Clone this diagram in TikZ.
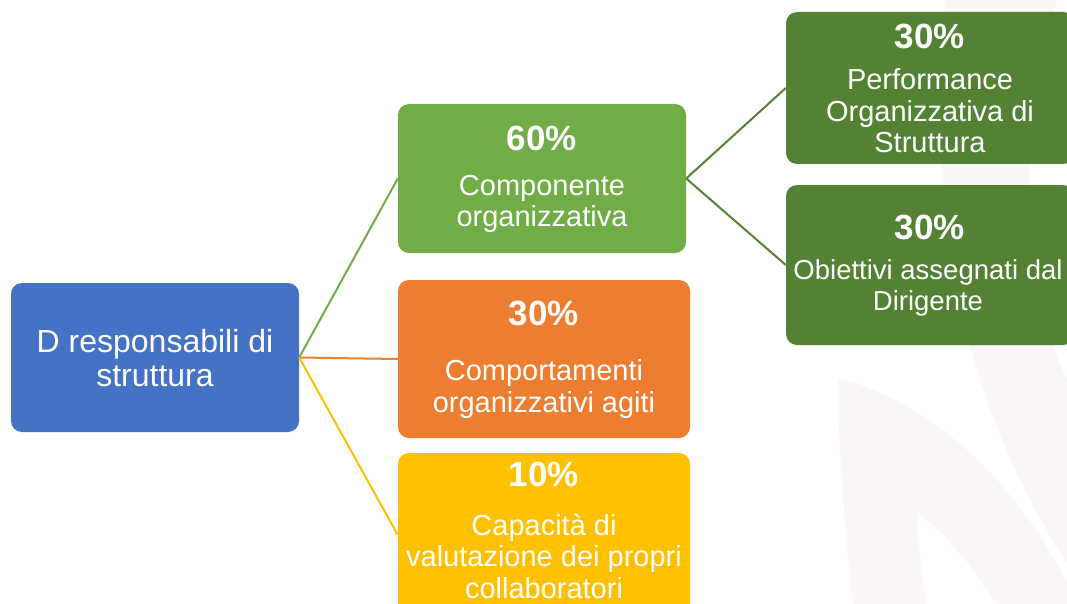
\documentclass[tikz,border=0pt]{standalone}
\usepackage{fontspec}
\setmainfont{Liberation Sans}
\usepackage{tikz}
\usetikzlibrary{positioning}
\definecolor{rootblue}{HTML}{4472C4}
\definecolor{leafgreen}{HTML}{70AD47}
\definecolor{carrot}{HTML}{ED7D31}
\definecolor{amber}{HTML}{FFC000}
\definecolor{forest}{HTML}{548235}
\definecolor{ghost}{HTML}{FBF7F8}

\begin{document}
\begin{tikzpicture}[x=1pt, y=-1pt,
		box/.style={rounded corners=11pt, inner sep=0pt, minimum width=288pt},
		pct/.style={text=white, font=\bfseries\fontsize{35}{40}\selectfont},
		txt/.style={text=white, align=center, font=\fontsize{29}{31.5}\selectfont},
		link/.style={line width=2pt}]
		
		\clip (0,0) rectangle (1067,604);
		
		\fill [ghost] (838,378) .. controls (940,405) and (1020,490) .. (1067,583) -- (1067,604) -- (997,604) .. controls (975,570) and (950,538) .. (917,512) .. controls (918,550) and (922,580) .. (927,604) -- (853,604) .. controls (845,530) and (838,450) .. (838,378) -- cycle;
		\fill [ghost] (945,0) .. controls (925,200) and (960,400) .. (1067,563) -- (1067,380) .. controls (1030,300) and (1010,150) .. (1057,0) -- cycle;
		
		\node [box, fill=rootblue, minimum height=149pt] (root) at (155,357.5) {};
		\node [box, fill=leafgreen, minimum height=149pt] (cmp) at (542,178.5) {};
		\node [box, fill=carrot, minimum width=292pt, minimum height=158pt] (beh) at (544,359) {};
		\node [box, fill=amber, minimum width=292pt, minimum height=164pt] (val) at (544,535) {};
		\node [box, fill=forest, minimum height=152pt] (perf) at (930,88) {};
		\node [box, fill=forest, minimum height=160pt] (obj) at (930,265) {};
		
		\node [txt, font=\fontsize{32}{34}\selectfont] (rootT) at (155,358) {D responsabili di\\struttura};
		
		\node [pct] (cmpP) at (542,138) {60\%};
		\node [txt] (cmpT) at (542,204) {Componente\\organizzativa};
		\node [pct] (behP) at (544,313) {30\%};
		\node [txt] (behT) at (544,389) {Comportamenti\\organizzativi agiti};
		\node [pct] (valP) at (544,474) {10\%};
		\node [txt] (valT) at (544,556) {Capacità di\\valutazione dei propri\\collaboratori};
		\node [pct] (perfP) at (930,36) {30\%};
		\node [txt] (perfT) at (930,111) {Performance\\Organizzativa di\\Struttura};
		\node [pct] (objP) at (930,227) {30\%};
		\node [txt, font=\fontsize{27.5}{31.5}\selectfont] (objT) at (928,288) {Obiettivi assegnati dal\\Dirigente};
		
		\draw [link, leafgreen] (root.east) -- (cmp.west);
		\draw [link, carrot] (root.east) -- (beh.west);
		\draw [link, amber] (root.east) -- (val.west);
		\draw [link, forest] (cmp.east) -- (perf.west);
		\draw [link, forest] (cmp.east) -- (obj.west);
	\end{tikzpicture}
\end{document}
